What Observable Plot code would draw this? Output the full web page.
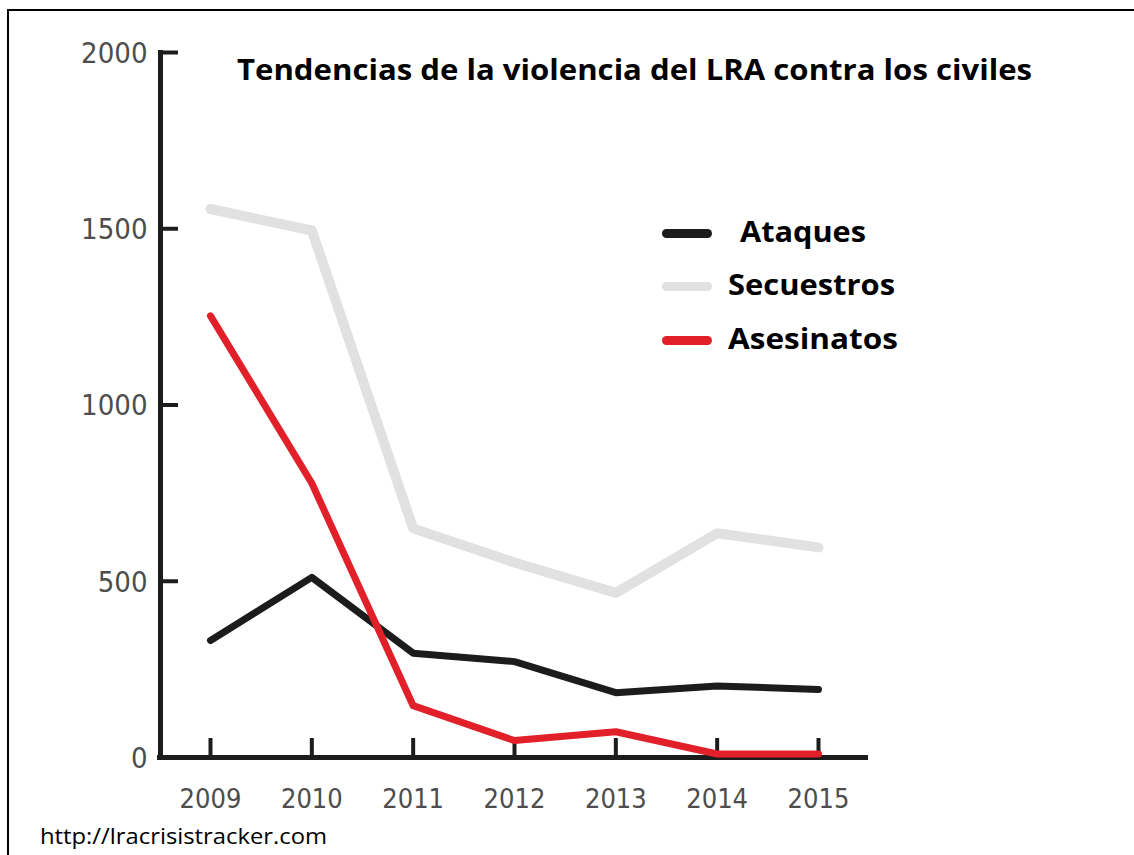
<!DOCTYPE html>
<html><head><meta charset="utf-8">
<script src="https://cdn.jsdelivr.net/npm/d3@7"></script>
<script src="https://cdn.jsdelivr.net/npm/@observablehq/plot@0.6"></script>
<style>
body{margin:0;background:#fff;}
#wrap{position:relative;width:1134px;height:855px;overflow:hidden;background:#fff;}
#frame{position:absolute;left:7px;top:9px;width:1200px;height:900px;border-top:2px solid #000;border-left:2px solid #000;pointer-events:none;}
#chart{position:absolute;left:0;top:0;}
#title{position:absolute;left:237px;top:49px;font-family:"Open Sans",sans-serif;font-weight:700;font-size:28px;line-height:40px;color:#000;white-space:nowrap;transform-origin:left center;}
.leg{position:absolute;font-family:"Open Sans",sans-serif;font-weight:700;font-size:29px;line-height:40px;color:#000;white-space:nowrap;transform-origin:left center;}
.sw{position:absolute;left:662px;width:50px;height:9px;border-radius:4.5px;}
#foot{position:absolute;left:40px;top:820px;font-family:"Open Sans",sans-serif;font-size:22px;line-height:30px;color:#000;white-space:nowrap;transform-origin:left center;}
</style>
</head><body>
<div id="wrap">
  <div id="chart"></div>
  <div id="frame"></div>
  <div id="title">Tendencias de la violencia del LRA contra los civiles</div>
  <div id="legend"></div>
  <div id="foot">http://lracrisistracker.com</div>
</div>
<script>
const years = [2009, 2010, 2011, 2012, 2013, 2014, 2015];
const ataques = [332, 511, 296, 272, 184, 203, 193];
const secuestros = [1556, 1495, 650, 553, 467, 636, 596];
const asesinatos = [1253, 778, 147, 48, 73, 10, 10];
const yTicks = [0, 500, 1000, 1500, 2000];
const seriesNames = ["Ataques", "Secuestros", "Asesinatos"];
const seriesColors = ["#1c1c1c", "#e1e1e1", "#e2202a"];
const seriesWidths = [7, 10, 7];
const seriesValues = [ataques, secuestros, asesinatos];

const W = 1134, H = 855, mT = 52, mB = 98, mL = 160, mR = 266;
const table = (vals) => years.map((yr, i) => ({year: yr, value: vals[i]}));

const drawOrder = [1, 0, 2];
const lineMarks = drawOrder.map(k => Plot.line(table(seriesValues[k]), {
  x: "year", y: "value", stroke: seriesColors[k], strokeWidth: seriesWidths[k],
  strokeLinejoin: "round", strokeLinecap: "round"
}));

const chart = Plot.plot({
  width: W, height: H,
  marginTop: mT, marginBottom: mB, marginLeft: mL, marginRight: mR,
  x: {domain: [2009, 2015], range: [210, 818], axis: null},
  y: {domain: [0, 2000], axis: null},
  style: {background: "transparent"},
  marks: [
    Plot.ruleX(years, {x: d => d, stroke: "#1c1c1c", strokeWidth: 4, insetTop: (H - mT - mB) - 19}),
    Plot.ruleY(yTicks.filter(d => d > 0), {y: d => d, stroke: "#1c1c1c", strokeWidth: 4, insetRight: (W - mL - mR) - 18}),
    Plot.frame({anchor: "left", stroke: "#1c1c1c", strokeWidth: 5}),
    Plot.ruleY([0], {stroke: "#1c1c1c", strokeWidth: 5, insetLeft: -3}),
    ...lineMarks,
    Plot.text(yTicks, {y: d => d, text: d => String(d), frameAnchor: "left", dx: -13, dy: 1, textAnchor: "end",
      fontSize: 29, fill: "#4d4d4d", fontFamily: "'DejaVu Sans Condensed','DejaVu Sans',sans-serif"}),
    Plot.text(years, {x: d => d, text: d => String(d), frameAnchor: "bottom", dy: 50,
      fontSize: 27, fill: "#4d4d4d", fontFamily: "'DejaVu Sans Condensed','DejaVu Sans',sans-serif"})
  ]
});
chart.style.fontStretch = "condensed";
document.getElementById("chart").appendChild(chart);

function fitWidth(el, target) {
  const w = el.getBoundingClientRect().width;
  el.style.transform = `scaleX(${target / w})`;
}

const legend = document.getElementById("legend");
const legTops = [233, 286, 340];
const legLefts = [740, 728, 728];
const legWidths = [126, 167, 170];
seriesNames.forEach((name, i) => {
  const sw = document.createElement("div");
  sw.className = "sw";
  sw.style.top = (legTops[i] - 4.5) + "px";
  sw.style.background = seriesColors[i];
  legend.appendChild(sw);
  const t = document.createElement("div");
  t.className = "leg";
  t.textContent = name;
  t.style.left = legLefts[i] + "px";
  t.style.top = (legTops[i] - 22) + "px";
  legend.appendChild(t);
  fitWidth(t, legWidths[i]);
});

fitWidth(document.getElementById("title"), 795);
fitWidth(document.getElementById("foot"), 287);
</script>
</body></html>
